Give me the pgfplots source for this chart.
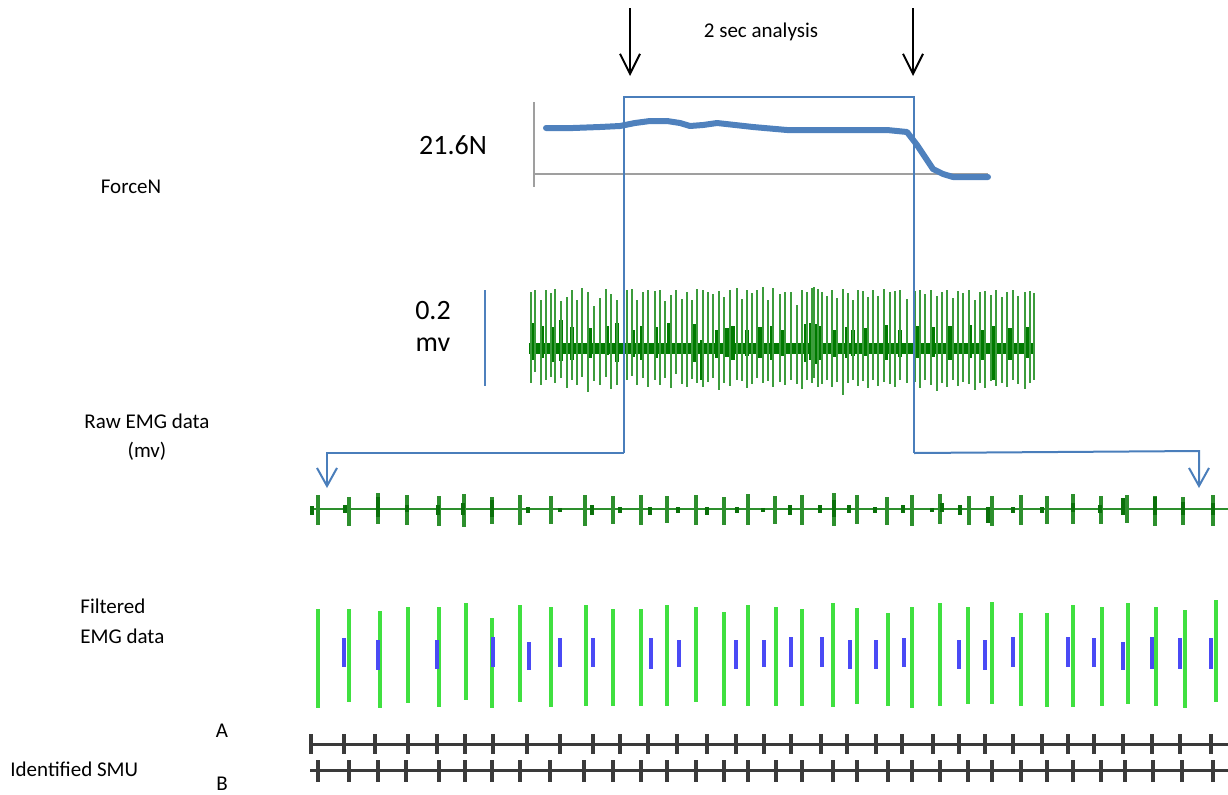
\documentclass[border=0pt]{standalone}
\usepackage{pgfplots}
\pgfplotsset{compat=1.18}
\usepackage{pgfplotstable}
\usepackage{fontspec}
\setmainfont{Carlito}
\usetikzlibrary{arrows.meta}

\definecolor{boxblue}{HTML}{4A7EBB}
\definecolor{forceblue}{HTML}{4F81BD}
\definecolor{rawgreen}{HTML}{1A8A1A}
\definecolor{rawcore}{HTML}{007A00}
\definecolor{strip}{HTML}{2D8F2D}
\definecolor{blob}{HTML}{0A700A}
\definecolor{lime}{HTML}{40E040}
\definecolor{spikeblue}{HTML}{4A4AF5}
\definecolor{smu}{HTML}{3A3A3A}

% raw EMG spikes: x, top, bottom
\pgfplotstableread{
x t b
531 292 383
535 290 372
541 300 385
546 290 380
551 293 377
555 289 383
561 301 378
567 297 388
572 290 380
577 300 385
582 288 377
588 292 392
594 306 381
600 298 385
606 289 377
611 294 389
617 300 385
627 290 380
632 289 376
637 300 385
643 292 378
648 290 387
655 291 380
660 290 385
665 301 378
671 295 388
676 290 374
682 299 384
687 292 387
692 300 379
697 289 383
703 290 387
708 292 382
713 294 378
719 291 390
724 297 383
730 290 386
737 288 380
742 299 381
747 290 388
752 293 384
757 290 378
763 287 383
768 300 381
773 288 387
780 294 382
785 292 385
791 292 380
797 305 384
802 290 389
807 292 380
812 288 383
814 287 378
818 289 387
822 292 384
827 296 380
832 290 387
837 298 382
843 289 395
848 293 383
853 300 380
858 290 386
863 291 381
868 297 388
873 290 380
878 296 386
884 289 382
890 292 384
895 291 387
900 290 380
907 299 383
915 291 382
920 290 388
925 294 380
931 290 385
937 296 391
942 292 383
947 290 387
953 298 380
958 291 386
963 293 382
969 290 384
975 300 390
980 292 383
985 291 388
991 295 381
996 290 386
1002 297 383
1007 292 387
1013 290 380
1018 296 384
1025 292 389
1030 291 383
1034 293 380
}\rawspikes

% raw EMG bursts around the baseline
\pgfplotstableread{
x t b
532 323 360
542 326 358
553 327 362
561 320 361
572 327 360
590 328 358
607 326 355
617 323 362
633 330 357
642 326 360
656 327 358
669 323 352
695 324 362
702 340 380
717 330 358
727 328 357
733 326 360
747 330 356
760 327 358
772 326 360
783 330 356
806 324 362
811 323 360
816 324 364
821 326 360
835 330 357
847 327 358
853 330 356
866 328 356
886 325 360
900 330 357
917 326 358
933 327 357
950 326 360
970 325 358
983 330 360
993 326 380
1010 328 360
1027 327 358
}\rawbursts

% expanded 2 s strip: spikes
\pgfplotstableread{
x t b
318 495 525
349 497 526
378 493 524
407 495 525
439 496 526
464 494 527
492 497 524
520 495 525
551 496 524
585 495 526
613 496 524
641 495 525
667 496 523
696 495 525
724 497 525
748 494 525
775 496 524
802 495 525
834 493 526
857 495 524
887 497 525
912 495 526
940 494 524
969 496 525
992 496 526
1021 495 525
1047 496 524
1073 494 524
1101 496 524
1127 495 523
1155 496 526
1183 497 525
1213 495 526
}\stripspikes

% expanded 2 s strip: small units
\pgfplotstableread{
x t b
312 506 515
345 505 513
378 497 517
407 505 512
438 505 515
463 503 515
492 500 517
528 507 513
560 508 512
592 505 515
620 507 513
650 507 515
678 507 513
707 507 515
737 507 513
763 508 512
790 505 515
820 505 513
834 500 517
849 505 513
875 507 513
903 505 513
932 508 512
942 503 512
960 505 515
988 507 523
1013 507 513
1042 507 513
1073 503 512
1100 505 513
1123 498 515
1155 497 515
1183 502 515
1213 503 515
}\stripblobs

% filtered EMG: unit B (long, green)
\pgfplotstableread{
x t b
318 609 708
349 609 702
380 611 708
408 607 703
439 607 707
466 603 700
492 618 708
520 605 702
551 607 707
586 605 706
613 609 706
641 609 706
667 605 706
696 607 702
724 612 706
748 605 706
776 607 706
802 609 706
833 603 707
857 608 704
888 613 706
912 607 708
940 603 706
968 607 704
992 602 704
1021 613 706
1047 613 707
1073 605 707
1102 607 706
1128 603 704
1156 607 706
1185 610 708
1216 600 702
}\filtgreen

% filtered EMG: unit A (short, blue)
\pgfplotstableread{
x t b
344 638 667
378 640 670
437 640 669
493 637 667
529 642 670
560 638 667
593 638 667
651 638 669
679 640 667
736 640 669
764 640 667
791 637 667
822 637 667
850 640 669
876 640 669
904 638 667
959 640 669
985 640 670
1013 637 667
1068 637 667
1094 638 667
1123 642 670
1152 637 669
1180 638 669
1211 638 669
}\filtblue

% identified SMU firing times (tick top, tick bottom)
\pgfplotstableread{
x t b
311 734 754
344 734 754
375 734 754
408 734 754
437 734 754
465 734 754
493 734 754
527 734 754
560 734 754
593 734 754
620 734 754
648 734 754
677 734 754
707 734 754
736 734 754
764 734 754
791 734 754
821 734 754
847 734 754
876 734 754
902 734 754
933 734 754
959 734 754
985 734 754
1013 734 754
1042 734 754
1068 734 754
1094 734 754
1123 734 754
1152 734 754
1180 734 754
1211 734 754
}\smuA

\pgfplotstableread{
x t b
318 760 782
349 760 782
378 760 782
406 760 782
439 760 782
465 760 782
492 760 782
520 760 782
550 760 782
584 760 782
613 760 782
641 760 782
667 760 782
696 760 782
724 760 782
748 760 782
776 760 782
802 760 782
833 760 782
857 760 782
888 760 782
912 760 782
940 760 782
968 760 782
992 760 782
1021 760 782
1047 760 782
1073 760 782
1101 760 782
1125 760 782
1153 760 782
1182 760 782
1213 760 782
}\smuB

\begin{document}
\begin{tikzpicture}
\begin{axis}[
  scale only axis, width=614pt, height=397pt,
  xmin=0, xmax=1228, ymin=0, ymax=794, y dir=reverse,
  hide axis,
  segs/.style 2 args={draw=none, no markers,
    error bars/.cd, y dir=plus, y explicit, error mark=none,
    error bar style={draw=#1, line width=#2}},
]
% force trace
\addplot[gray!75, line width=1pt] coordinates {(534,102)(534,187)};
\addplot[gray!75, line width=1pt] coordinates {(534,174)(988,174)};
\addplot[forceblue, line width=3pt, line join=round, line cap=round] coordinates {
  (546,128)(573,128)(600,127)(620,126)(635,123)(650,121)(667,121)(680,123)
  (690,126)(703,125)(717,123)(735,125)(753,127)(787,130)(850,130)(887,130)
  (907,132)(917,145)(925,157)(933,169)(943,174)(953,177)(988,177)};

% raw EMG
\addplot[rawcore, line width=5.5pt] coordinates {(529,348)(1035,348)};
\addplot[segs={rawcore}{1.8pt}]
  table[x=x, y=t, y error expr=\thisrow{b}-\thisrow{t}] {\rawbursts};
\addplot[segs={rawgreen!85}{1.3pt}]
  table[x=x, y=t, y error expr=\thisrow{b}-\thisrow{t}] {\rawspikes};
\addplot[forceblue, line width=1pt] coordinates {(485,290)(485,386)};

% 2 s window and expansion arrows
\addplot[boxblue, line width=1pt] coordinates {(624,453)(624,97)(914,97)(914,453)};
\addplot[boxblue, line width=1pt, -{Straight Barb[length=9pt,width=10pt]}]
  coordinates {(624,453)(327,453)(327,488)};
\addplot[boxblue, line width=1pt, -{Straight Barb[length=9pt,width=10pt]}]
  coordinates {(914,453)(1199,451)(1199,488)};
\addplot[black, line width=1pt, -{Straight Barb[length=10pt,width=10pt]}]
  coordinates {(630,8)(630,76)};
\addplot[black, line width=1pt, -{Straight Barb[length=10pt,width=10pt]}]
  coordinates {(913,8)(913,76)};

% expanded strip
\addplot[strip, line width=1.1pt] coordinates {(310,509)(1228,509)};
\addplot[segs={strip}{1.7pt}]
  table[x=x, y=t, y error expr=\thisrow{b}-\thisrow{t}] {\stripspikes};
\addplot[segs={blob}{2.4pt}]
  table[x=x, y=t, y error expr=\thisrow{b}-\thisrow{t}] {\stripblobs};

% filtered EMG
\addplot[segs={lime}{1.8pt}]
  table[x=x, y=t, y error expr=\thisrow{b}-\thisrow{t}] {\filtgreen};
\addplot[segs={spikeblue}{2pt}]
  table[x=x, y=t, y error expr=\thisrow{b}-\thisrow{t}] {\filtblue};

% identified SMU
\addplot[smu, line width=1.5pt] coordinates {(310,744)(1228,744)};
\addplot[smu, line width=1.5pt] coordinates {(310,770)(1228,770)};
\addplot[segs={smu}{1.8pt}]
  table[x=x, y=t, y error expr=\thisrow{b}-\thisrow{t}] {\smuA};
\addplot[segs={smu}{1.8pt}]
  table[x=x, y=t, y error expr=\thisrow{b}-\thisrow{t}] {\smuB};

% labels
\begin{scope}[font=\fontsize{10.5}{12.6}\selectfont]
\node at (761,32) {2 sec analysis};
\node at (131,187) {ForceN};
\node at (147,421) {Raw EMG data};
\node at (147,451) {(mv)};
\node[anchor=west, inner sep=0pt] at (80,606) {Filtered};
\node[anchor=west, inner sep=0pt] at (80,636) {EMG data};
\node at (222,731) {A};
\node[anchor=west, inner sep=0pt] at (10,769) {Identified SMU};
\node[inner sep=1pt] at (222,784) {B};
\end{scope}
\begin{scope}[font=\fontsize{14}{16.8}\selectfont]
\node at (453,145) {21.6N};
\node at (433,311) {0.2};
\node at (433,345) {mv};
\end{scope}
\end{axis}
\pgfresetboundingbox
\path (current axis.south west) rectangle (current axis.north east);
\end{tikzpicture}
\end{document}
